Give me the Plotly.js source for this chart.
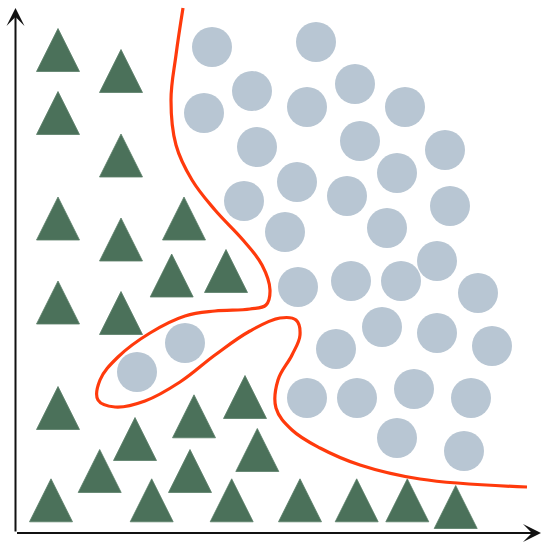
<!DOCTYPE html>
<html>
<head>
<meta charset="utf-8">
<script src="https://cdn.plot.ly/plotly-3.0.1.min.js"></script>
<style>
  html, body { margin: 0; padding: 0; background: #fff; }
  #plot { width: 550px; height: 550px; }
</style>
</head>
<body>
<div id="plot"></div>
<script>
// class A (triangles) - centres, in picture units (y grows downward)
let triX = [58, 121, 58, 121, 58, 121, 184, 171.7, 226, 58, 121, 58, 245, 194, 135,
  257.3, 99.7, 190, 51, 151.7, 231.7, 300, 356.7, 407.3, 455.7];
let triY = [50, 71, 113, 155.5, 218.5, 239.5, 218.5, 275.5, 271, 302.5, 313, 408, 397, 416.3, 439,
  450, 471, 471, 500.3, 500.3, 500.3, 500.3, 500.3, 500.3, 507];

// class B (circles)
let circX = [212, 316, 252, 355, 204, 307, 405, 257, 360, 445, 244, 297, 397, 347, 450, 285,
  387, 437, 298, 351, 401, 478, 382, 437, 336, 492, 307, 357, 414, 471, 397, 464, 137, 185];
let circY = [47, 42, 91, 84, 113, 107, 107, 147, 141, 150, 201, 182, 173, 196, 206, 232,
  228, 261, 287, 281, 281, 293, 327, 333, 349, 346, 398, 398, 389, 398, 438, 451, 372, 343];

// decision boundary (overfitted)
let curveX = [183, 176, 171, 176, 192, 215, 243, 262, 270, 266, 250, 215, 185, 150, 118,
  100, 98, 115, 145, 180, 215, 250, 280, 296, 300, 292, 278, 276, 292, 320, 360, 420, 527];
let curveY = [8, 55, 100, 145, 180, 210, 240, 265, 290, 305, 309, 311, 316, 333, 357,
  380, 400, 407, 401, 382, 355, 331, 318, 320, 335, 355, 380, 408, 430, 448, 465, 479, 487];

// triangles as filled polygons around each centre
let triW = 43, triH = 43;
let polyX = [], polyY = [];
triX.forEach((cx, i) => {
  let cy = triY[i];
  polyX.push(cx - triW / 2, cx + triW / 2, cx, cx - triW / 2, null);
  polyY.push(cy + triH / 2, cy + triH / 2, cy - triH / 2, cy + triH / 2, null);
});

let triTrace = {
  x: polyX, y: polyY,
  type: 'scatter', mode: 'lines',
  fill: 'toself', fillcolor: '#4b715a',
  line: {color: '#5a7f68', width: 0.8},
  hoverinfo: 'skip'
};

let circTrace = {
  x: circX, y: circY,
  type: 'scatter', mode: 'markers',
  marker: {symbol: 'circle', size: 40, color: '#b8c6d3', line: {width: 0}},
  hoverinfo: 'skip'
};

let curveTrace = {
  x: curveX, y: curveY,
  type: 'scatter', mode: 'lines',
  line: {color: '#ff3a0c', width: 3.2, shape: 'spline', smoothing: 1.1},
  hoverinfo: 'skip'
};

let layout = {
  width: 550, height: 550,
  margin: {l: 0, r: 0, t: 0, b: 0},
  paper_bgcolor: '#fff', plot_bgcolor: '#fff',
  showlegend: false,
  xaxis: {range: [0, 550], visible: false, fixedrange: true},
  yaxis: {range: [550, 0], visible: false, fixedrange: true},
  annotations: [
    {x: 15.5, y: 8, ax: 15.5, ay: 533, xref: 'x', yref: 'y', axref: 'x', ayref: 'y',
     text: '', showarrow: true, arrowhead: 3, arrowsize: 1.5, arrowwidth: 2, arrowcolor: '#111'},
    {x: 541, y: 533, ax: 15.5, ay: 533, xref: 'x', yref: 'y', axref: 'x', ayref: 'y',
     text: '', showarrow: true, arrowhead: 3, arrowsize: 1.5, arrowwidth: 2, arrowcolor: '#111'}
  ]
};

Plotly.newPlot('plot', [triTrace, circTrace, curveTrace], layout, {displayModeBar: false, staticPlot: true});
</script>
</body>
</html>
